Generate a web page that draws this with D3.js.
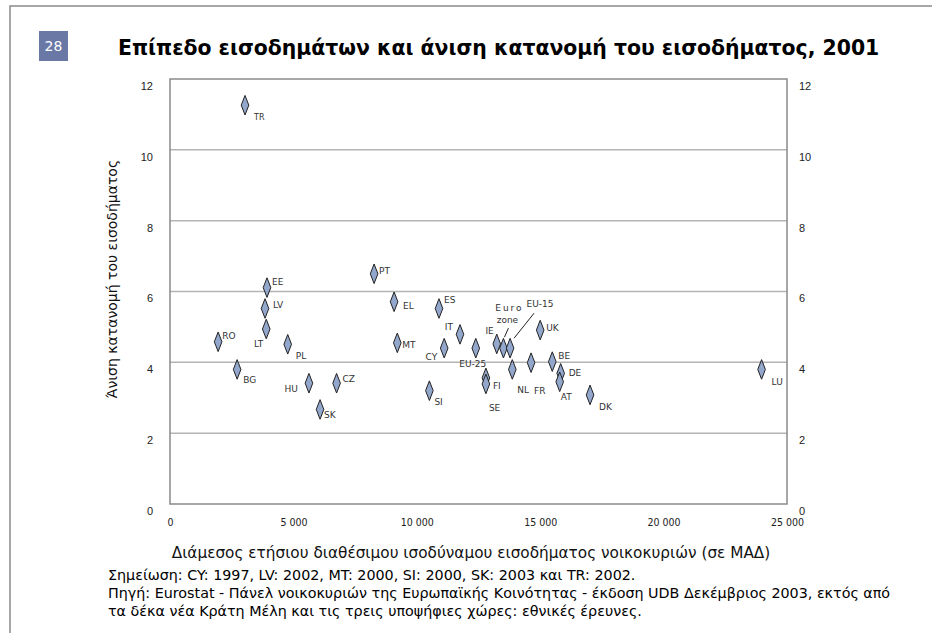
<!DOCTYPE html>
<html>
<head>
<meta charset="utf-8">
<script src="https://cdn.jsdelivr.net/npm/d3@7"></script>
<style>
  body { margin: 0; background: #fff; }
  svg { display: block; font-family: "DejaVu Sans", Verdana, sans-serif; }
</style>
</head>
<body>
<div id="chart"></div>
<script>
// Country codes, median income (PPS) and income inequality (S80/S20)
const codes = ["TR", "RO", "BG", "EE", "LV", "LT", "PL", "HU", "SK", "CZ",
    "PT", "EL", "MT", "SI", "ES", "CY", "IT", "EU-25", "FI", "SE",
    "IE", "Euro zone", "EU-15", "NL", "FR", "UK", "BE", "DE", "AT", "DK", "LU"];
const incomes = [3040, 1950, 2720, 3930, 3850, 3900, 4770, 5630, 6080, 6750,
    8270, 9080, 9210, 10510, 10900, 11110, 11750, 12390, 12800, 12800,
    13240, 13510, 13780, 13870, 14630, 15000, 15490, 15830, 15790, 17020, 23970];
const inequality = [11.26, 4.58, 3.80, 6.11, 5.52, 4.94, 4.51, 3.41, 2.67, 3.41,
    6.50, 5.71, 4.55, 3.20, 5.52, 4.40, 4.79, 4.40, 3.56, 3.39,
    4.52, 4.40, 4.40, 3.80, 3.99, 4.91, 4.02, 3.69, 3.45, 3.08, 3.80];

const xTicks = [0, 5000, 10000, 15000, 20000, 25000];
const yTicks = [0, 2, 4, 6, 8, 10, 12];

const title = "Επίπεδο εισοδημάτων και άνιση κατανομή του εισοδήματος, 2001";
const xTitle = "Διάμεσος ετήσιου διαθέσιμου ισοδύναμου εισοδήματος νοικοκυριών (σε ΜΑΔ)";
const yTitle = "Άνιση κατανομή του εισοδήματος";
const notes = [
    "Σημείωση: CY: 1997, LV: 2002, MT: 2000, SI: 2000, SK: 2003 και TR: 2002.",
    "Πηγή: Eurostat - Πάνελ νοικοκυριών της Ευρωπαϊκής Κοινότητας - έκδοση UDB Δεκέμβριος 2003, εκτός από",
    "τα δέκα νέα Κράτη Μέλη και τις τρεις υποψήφιες χώρες: εθνικές έρευνες."
];

// label placement relative to the marker (dx, dy, anchor)
const labelAt = {
    "TR": [9, 12, "start"], "RO": [4, -6, "start"], "BG": [6, 11, "start"],
    "EE": [5, -6, "start"], "LV": [8, -4, "start"], "LT": [-3, 15, "end"],
    "PL": [8, 12, "start"], "HU": [-11, 6, "end"], "SK": [4, 6, "start"],
    "CZ": [6, -4, "start"], "PT": [5, -3, "start"], "EL": [9, 4, "start"],
    "MT": [5, 2, "start"], "SI": [5, 11, "start"], "ES": [5, -9, "start"],
    "CY": [-7, 9, "end"], "IT": [-7, -7, "end"], "EU-25": [-3, 15.5, "middle"],
    "FI": [7, 8, "start"], "SE": [3, 24, "start"], "IE": [-3, -13, "end"],
    "NL": [5, 21, "start"], "FR": [3, 28, "start"], "UK": [6, -2, "start"],
    "BE": [6, -6, "start"], "DE": [8, 0, "start"], "AT": [1, 15, "start"],
    "DK": [9, 12, "start"], "LU": [10, 13, "start"]
};

const width = 932, height = 633;
const plot = { left: 170, right: 787, top: 79, bottom: 504 };

const svg = d3.select("#chart").append("svg")
    .attr("width", width)
    .attr("height", height);

// page frame (top and left rules)
svg.append("path")
    .attr("d", `M10,${height} V6 H${width}`)
    .attr("fill", "none")
    .attr("stroke", "#8a8a8a")
    .attr("stroke-width", 1.5);

// chart number box + title
svg.append("rect")
    .attr("x", 39).attr("y", 31).attr("width", 29).attr("height", 30)
    .attr("fill", "#6a78a6");
svg.append("text")
    .attr("x", 53.5).attr("y", 46)
    .attr("text-anchor", "middle")
    .attr("dominant-baseline", "central")
    .attr("fill", "#fff")
    .attr("font-size", 14)
    .text("28");
svg.append("text")
    .attr("x", 118).attr("y", 55)
    .attr("font-size", 20.4)
    .attr("font-weight", "bold")
    .attr("fill", "#000")
    .text(title);

const x = d3.scaleLinear().domain([0, 25000]).range([plot.left, plot.right]);
const y = d3.scaleLinear().domain([0, 12]).range([plot.bottom, plot.top]);

// horizontal gridlines
svg.append("g")
    .selectAll("line")
    .data(yTicks.filter(d => d > 0 && d < 12))
    .join("line")
    .attr("x1", plot.left).attr("x2", plot.right)
    .attr("y1", d => y(d)).attr("y2", d => y(d))
    .attr("stroke", "#b4b4b4")
    .attr("stroke-width", 1.5);

// plot border
svg.append("rect")
    .attr("x", plot.left).attr("y", plot.top)
    .attr("width", plot.right - plot.left)
    .attr("height", plot.bottom - plot.top)
    .attr("fill", "none")
    .attr("stroke", "#8a8a8a")
    .attr("stroke-width", 1.5);

const fmt = d => d3.format(",")(d).replace(/,/g, " ");

// x axis
const xAxis = svg.append("g")
    .attr("transform", `translate(0,${plot.bottom})`)
    .call(d3.axisBottom(x).tickValues(xTicks).tickFormat(fmt).tickSize(0).tickPadding(15));
xAxis.select(".domain").remove();
xAxis.selectAll("text").attr("font-size", 10.5).attr("fill", "#222")
    .attr("font-family", "'DejaVu Sans Condensed', 'DejaVu Sans', sans-serif");

// left y axis
const yAxisL = svg.append("g")
    .attr("transform", `translate(${plot.left},0)`)
    .call(d3.axisLeft(y).tickValues(yTicks).tickSize(0).tickPadding(17));
yAxisL.select(".domain").remove();
yAxisL.selectAll("text").attr("font-size", 11).attr("fill", "#222").attr("dy", "0.95em");

// right y axis
const yAxisR = svg.append("g")
    .attr("transform", `translate(${plot.right},0)`)
    .call(d3.axisRight(y).tickValues(yTicks).tickSize(0).tickPadding(12));
yAxisR.select(".domain").remove();
yAxisR.selectAll("text").attr("font-size", 11).attr("fill", "#222").attr("dy", "0.95em");

// axis titles
svg.append("text")
    .attr("x", 471).attr("y", 558)
    .attr("text-anchor", "middle")
    .attr("font-size", 15.3)
    .attr("fill", "#111")
    .text(xTitle);
svg.append("text")
    .attr("transform", "translate(117,279) rotate(-90)")
    .attr("text-anchor", "middle")
    .attr("font-size", 14)
    .attr("fill", "#111")
    .text(yTitle);

// notes under the chart
svg.append("g")
    .selectAll("text")
    .data(notes)
    .join("text")
    .attr("x", 108)
    .attr("y", (d, i) => 580 + i * 18)
    .attr("font-size", 14.3)
    .attr("fill", "#000")
    .text(d => d);

const points = codes.map((c, i) => ({ code: c, x: incomes[i], y: inequality[i] }));

// leader lines for the aggregate labels
const euro = points.find(d => d.code === "Euro zone");
const eu15 = points.find(d => d.code === "EU-15");
svg.append("line")
    .attr("x1", x(euro.x) + 1).attr("y1", y(euro.y) - 11)
    .attr("x2", x(euro.x) + 5).attr("y2", y(euro.y) - 20)
    .attr("stroke", "#222").attr("stroke-width", 1);
svg.append("line")
    .attr("x1", x(eu15.x) + 4).attr("y1", y(eu15.y) - 10)
    .attr("x2", x(eu15.x) + 24).attr("y2", y(eu15.y) - 35)
    .attr("stroke", "#222").attr("stroke-width", 1);

// diamond markers
const diamond = "M0,-9.8 L3.8,0 L0,9.8 L-3.8,0 Z";
svg.append("g")
    .selectAll("path")
    .data(points)
    .join("path")
    .attr("transform", d => `translate(${x(d.x)},${y(d.y)})`)
    .attr("d", diamond)
    .attr("fill", "#93a7cc")
    .attr("stroke", "#222")
    .attr("stroke-width", 1);

// country labels
svg.append("g")
    .selectAll("text")
    .data(points.filter(d => labelAt[d.code]))
    .join("text")
    .attr("x", d => x(d.x) + labelAt[d.code][0])
    .attr("y", d => y(d.y) + labelAt[d.code][1])
    .attr("text-anchor", d => labelAt[d.code][2])
    .attr("dominant-baseline", "central")
    .attr("font-size", d => d.code === "TR" ? 8 : 9)
    .attr("fill", "#333")
    .text(d => d.code);

// "Euro zone" and "EU-15" labels above their leader lines
svg.append("text")
    .attr("x", x(euro.x) + 6).attr("y", y(euro.y) - 40)
    .attr("text-anchor", "middle").attr("dominant-baseline", "central")
    .attr("font-size", 9).attr("fill", "#333")
    .attr("letter-spacing", 2)
    .text("Euro");
svg.append("text")
    .attr("x", x(euro.x) + 4).attr("y", y(euro.y) - 28)
    .attr("text-anchor", "middle").attr("dominant-baseline", "central")
    .attr("font-size", 9).attr("fill", "#333")
    .text("zone");
svg.append("text")
    .attr("x", x(eu15.x) + 30).attr("y", y(eu15.y) - 44)
    .attr("text-anchor", "middle").attr("dominant-baseline", "central")
    .attr("font-size", 9).attr("fill", "#333")
    .text("EU-15");
</script>
</body>
</html>
